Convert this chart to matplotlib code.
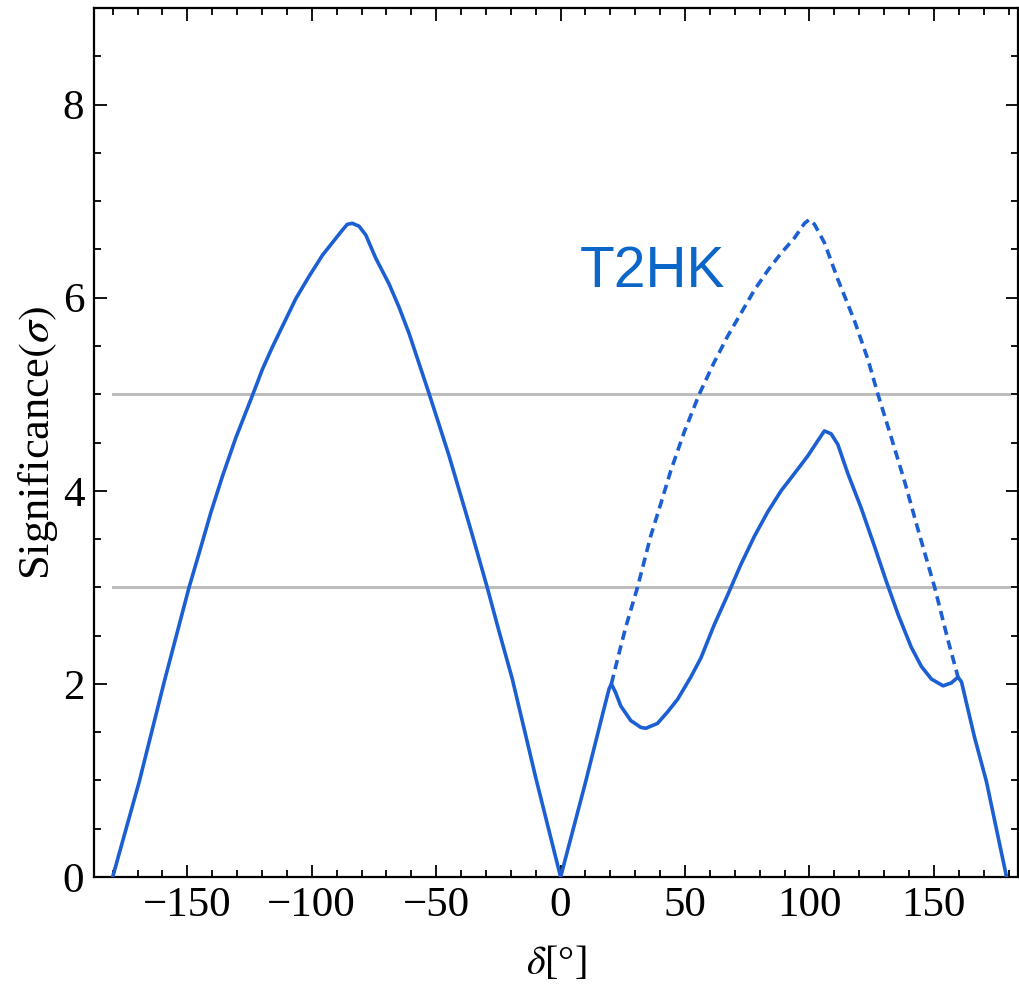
import numpy as np
import matplotlib.pyplot as plt
from matplotlib.ticker import MultipleLocator

# values
left_x = [-180, -169.3, -159.3, -149.3, -145.2, -140.6, -135.9, -130.5, -123.8, -119.8,
          -115.8, -111.1, -106.4, -101.1, -95.7, -91.7, -87.7, -85.7, -83.7, -81.0,
          -78.3, -74.3, -68.9, -64.9, -60.9, -56.9, -52.9, -48.9, -44.8, -40.8,
          -36.8, -32.8, -29.5, -24.8, -19.4, -10.0, 0]
left_y = [0, 0.99, 2.02, 3.0, 3.36, 3.77, 4.15, 4.55, 4.99, 5.26,
          5.49, 5.74, 5.99, 6.22, 6.44, 6.57, 6.70, 6.76, 6.77, 6.74,
          6.65, 6.41, 6.14, 5.90, 5.63, 5.32, 5.01, 4.69, 4.36, 4.01,
          3.66, 3.30, 3.0, 2.55, 2.05, 1.03, 0]

right_x = [0, 10.1, 17.4, 19.5, 20.4, 22.1, 24.2, 28.2, 32.2, 34.2, 38.9, 43.0, 47.0,
           52.3, 56.4, 61.7, 67.1, 72.5, 77.9, 83.2, 88.6, 94.0, 99.3, 103.4, 106.0,
           108.7, 111.4, 115.4, 120.8, 126.2, 130.9, 135.6, 140.9, 145.0, 149.0,
           153.7, 157.0, 159.7, 161.1, 163.1, 166.4, 171.1, 179.2]
right_y = [0, 0.99, 1.74, 1.95, 2.0, 1.91, 1.77, 1.62, 1.55, 1.54, 1.59, 1.71, 1.84,
           2.07, 2.27, 2.61, 2.92, 3.24, 3.53, 3.78, 4.00, 4.18, 4.36, 4.52, 4.62,
           4.59, 4.48, 4.18, 3.82, 3.42, 3.06, 2.72, 2.38, 2.18, 2.05,
           1.98, 2.01, 2.07, 2.02, 1.80, 1.44, 0.99, 0]

dash_x = [20.4, 23.5, 26.2, 30.9, 36.2, 40.3, 44.3, 49.7, 55.7, 61.7, 67.1, 72.5, 77.9,
          83.2, 88.6, 94.0, 98.0, 100.0, 102.0, 106.0, 111.4, 118.1, 123.5, 127.5,
          132.9, 138.3, 143.6, 150.3, 155.7, 159.7]
dash_y = [2.0, 2.32, 2.59, 3.0, 3.53, 3.87, 4.21, 4.61, 5.0, 5.33, 5.60, 5.84, 6.08,
          6.28, 6.46, 6.62, 6.77, 6.81, 6.76, 6.57, 6.19, 5.76, 5.36, 5.0,
          4.55, 4.09, 3.60, 3.0, 2.45, 2.07]

levels = [3, 5]

plt.rcParams['mathtext.fontset'] = 'stix'
serif = ['Liberation Serif', 'DejaVu Serif']
blue = '#1b5fd2'

fig = plt.figure(figsize=(10.2, 9.91), dpi=100)
ax = fig.add_axes([94/1020, 1-877/991, (1018-94)/1020, (877-8)/991])

for lv in levels:
    ax.plot([-180, 180], [lv, lv], color='#bdbdbd', lw=2.2, zorder=1)

ax.plot(left_x, left_y, color=blue, lw=2.6, solid_joinstyle='round', zorder=3)
ax.plot(right_x, right_y, color=blue, lw=2.6, solid_joinstyle='round', zorder=3)
ax.plot(dash_x, dash_y, color=blue, lw=2.6, dashes=(2.6, 1.6), zorder=3)

ax.text(7.5, 6.27, 'T2HK', color='#0a66c8', fontsize=41, family='Liberation Sans',
        va='center', ha='left')

ax.set_xlim(-187.5, 183.8)
ax.set_ylim(0, 9)
ax.xaxis.set_major_locator(MultipleLocator(50))
ax.xaxis.set_minor_locator(MultipleLocator(10))
ax.yaxis.set_major_locator(MultipleLocator(2))
ax.yaxis.set_minor_locator(MultipleLocator(0.5))
ax.tick_params(which='both', direction='in', top=True, right=True, width=1.3)
ax.tick_params(which='major', length=9, labelsize=31, pad=7)
ax.tick_params(which='minor', length=5)
for lab in ax.get_xticklabels() + ax.get_yticklabels():
    lab.set_family(serif)
for s in ax.spines.values():
    s.set_linewidth(1.6)

ax.set_xlabel(r'$\delta$[°]', fontsize=29, family=serif, labelpad=14)
ax.set_ylabel(r'Significance$(\sigma)$', fontsize=32, family=serif, labelpad=2)

fig.savefig('out.png', dpi=100)
